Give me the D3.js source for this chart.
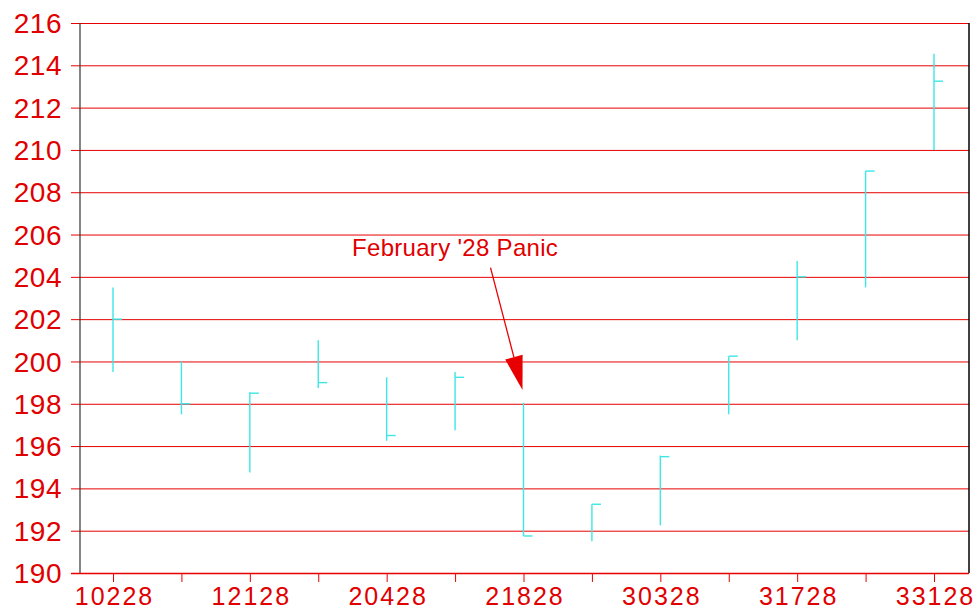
<!DOCTYPE html>
<html>
<head>
<meta charset="utf-8">
<script src="https://cdn.jsdelivr.net/npm/d3@7"></script>
<style>
  html, body { margin: 0; padding: 0; background: #fff; }
  svg { display: block; }
  text { font-family: "Liberation Sans", Arial, sans-serif; fill: #e00000; }
</style>
</head>
<body>
<svg id="chart" width="977" height="614"></svg>
<script>
const categories = ["10228","11428","12128","12828","20428","21128","21828","22528","30328","31028","31728","32428","33128"];
const highs  = [203.5, 200.0, 198.55, 201.0, 199.25, 199.5, 198.05, 193.25, 195.55, 200.25, 204.75, 209.0, 214.55];
const lows   = [199.5, 197.5, 194.75, 198.75, 196.25, 196.75, 191.75, 191.5, 192.25, 197.5, 201.0, 203.5, 210.0];
const closes = [202.0, 198.0, 198.5, 199.0, 196.5, 199.25, 191.75, 193.25, 195.5, 200.25, 204.0, 209.0, 213.25];
const yTicks = [190,192,194,196,198,200,202,204,206,208,210,212,214,216];
const xTickLabels = ["10228","12128","20428","21828","30328","31728","33128"];
const annotationText = "February '28 Panic";
const annotationTarget = { category: "21828", value: 198.65 };
const annotationLabelAt = { category: "21128", value: 205.0 };

const svg = d3.select("#chart");
const plot = { left: 80, right: 969, top: 23, bottom: 573 };

const x = d3.scalePoint().domain(categories).range([plot.left + 33, plot.right - 35]);
const y = d3.scaleLinear().domain([190, 216]).range([plot.bottom, plot.top]);

// horizontal gridlines (y axis ticks extended)
const gy = svg.append("g").attr("transform", `translate(${plot.right},0)`);
gy.call(d3.axisLeft(y).tickValues(yTicks).tickSize(plot.right - plot.left + 9).tickFormat(""));
gy.select(".domain").remove();
gy.selectAll(".tick line").attr("stroke", "#e80000").attr("stroke-width", 1);

// y labels
svg.append("g").selectAll("text").data(yTicks).join("text")
  .attr("x", 62).attr("y", d => y(d))
  .attr("dy", "0.36em")
  .attr("text-anchor", "end")
  .attr("font-size", 28)
  .attr("letter-spacing", 0.5)
  .text(d => d);

// left black axis line and right border
svg.append("line").attr("x1", plot.left).attr("x2", plot.left).attr("y1", plot.top).attr("y2", plot.bottom)
  .attr("stroke", "#333").attr("stroke-width", 1.2);
svg.append("line").attr("x1", plot.right).attr("x2", plot.right).attr("y1", plot.top).attr("y2", plot.bottom)
  .attr("stroke", "#000").attr("stroke-width", 1.5);

// x axis
const gx = svg.append("g").attr("transform", `translate(0,${plot.bottom})`);
gx.call(d3.axisBottom(x).tickSize(9).tickFormat(d => xTickLabels.includes(d) ? d : ""));
gx.select(".domain").attr("d", `M${plot.left - 9},0.5H${plot.right}`).attr("stroke", "#e80000").attr("stroke-width", 1.5);
gx.selectAll(".tick line").attr("stroke", "#e80000");
gx.selectAll(".tick text").attr("font-size", 25).attr("dy", "0.78em").attr("fill", "#e00000")
  .attr("letter-spacing", 2).attr("dx", 1)
  .style("font-family", '"Liberation Sans", Arial, sans-serif');

// HLC bars
const bars = svg.append("g").attr("stroke", "#3ee6e6").attr("stroke-width", 1.4).attr("fill", "none");
categories.forEach((c, i) => {
  const cx = x(c);
  bars.append("line").attr("x1", cx).attr("x2", cx).attr("y1", y(highs[i])).attr("y2", y(lows[i]));
  bars.append("line").attr("x1", cx).attr("x2", cx + 9).attr("y1", y(closes[i])).attr("y2", y(closes[i]));
});

// annotation
const lx = x(annotationLabelAt.category), ly = y(annotationLabelAt.value);
svg.append("text").attr("x", lx).attr("y", ly).attr("text-anchor", "middle").attr("font-size", 24)
  .attr("letter-spacing", 0.3)
  .text(annotationText);
const tx = x(annotationTarget.category) - 1, ty = y(annotationTarget.value);
const sx = tx - 32, sy = ly + 12;
const ang = Math.atan2(ty - sy, tx - sx);
const headLen = 34, headHalf = 9;
const bx = tx - headLen * Math.cos(ang), by = ty - headLen * Math.sin(ang);
svg.append("line").attr("x1", sx).attr("y1", sy).attr("x2", bx).attr("y2", by)
  .attr("stroke", "#e80000").attr("stroke-width", 1.3);
svg.append("path")
  .attr("d", `M${tx},${ty}L${bx + headHalf * Math.sin(ang)},${by - headHalf * Math.cos(ang)}L${bx - headHalf * Math.sin(ang)},${by + headHalf * Math.cos(ang)}Z`)
  .attr("fill", "#e80000");
</script>
</body>
</html>
